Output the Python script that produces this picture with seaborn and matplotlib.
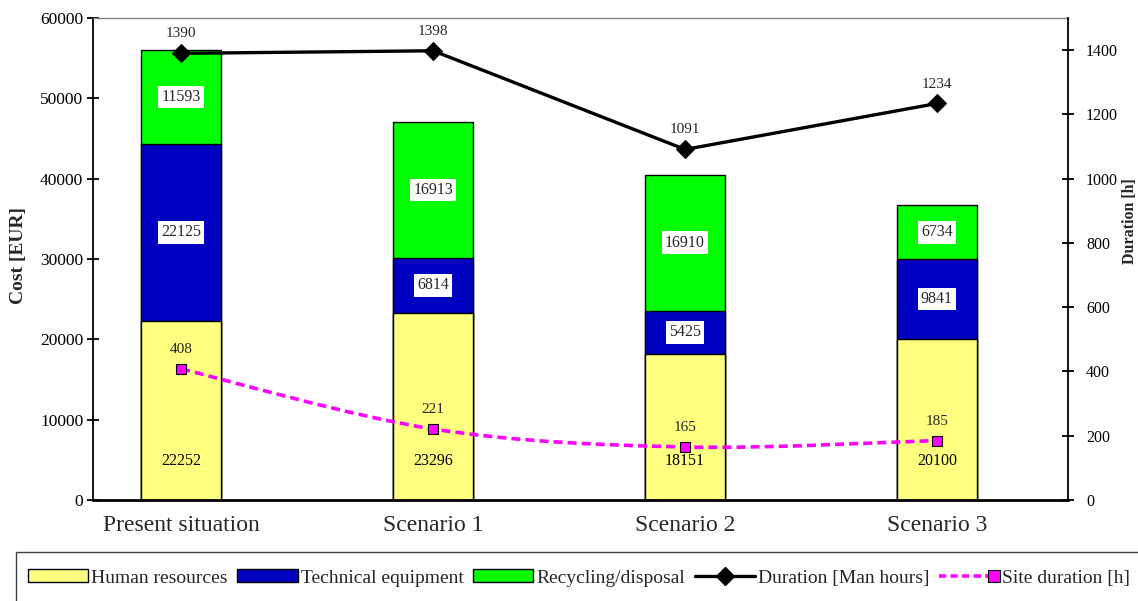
import numpy as np
import matplotlib
matplotlib.use("Agg")
import matplotlib.pyplot as plt
from matplotlib.path import Path
from matplotlib.patches import PathPatch, Patch, Rectangle
from matplotlib.lines import Line2D
from matplotlib.legend_handler import HandlerLine2D
import seaborn as sns

# ---- data ----
categories = ["Present situation", "Scenario 1", "Scenario 2", "Scenario 3"]
human_resources = [22252, 23296, 18151, 20100]
technical_equipment = [22125, 6814, 5425, 9841]
recycling_disposal = [11593, 16913, 16910, 6734]
duration_man_hours = [1390, 1398, 1091, 1234]
site_duration = [408, 221, 165, 185]

cost_ticks = [0, 10000, 20000, 30000, 40000, 50000, 60000]
hour_ticks = [0, 200, 400, 600, 800, 1000, 1200, 1400]

# ---- style ----
YELLOW = "#FFFF80"
BLUE = "#0000C0"
GREEN = "#00FF00"
MAGENTA = "#FF00FF"

sns.set_theme(style="white")
plt.rcParams["font.family"] = ["Liberation Serif", "DejaVu Serif"]

fig = plt.figure(figsize=(11.38, 6.01), dpi=100)
ax = fig.add_axes([93 / 1138, 1 - 500 / 601, (1068 - 93) / 1138, (500 - 18) / 601])

hr = np.array(human_resources)
te = np.array(technical_equipment)
rd = np.array(recycling_disposal)
stack_top = hr + te + rd
stack_mid = hr + te

bar_w = 0.32
# stacked columns: draw cumulative totals from the top segment down
for heights, col in [(stack_top, GREEN), (stack_mid, BLUE), (hr, YELLOW)]:
    sns.barplot(x=categories, y=heights, color=col, width=bar_w,
                edgecolor="black", linewidth=1.0, saturation=1, ax=ax)

pos = np.arange(len(categories))
ax.set_xlim(-0.35, 3.52)
ax.set_ylim(0, 60000)
ax.set_yticks(cost_ticks)
ax.set_yticklabels([str(t) for t in cost_ticks], fontsize=12.5)
ax.set_xticks(pos)
ax.set_xticklabels(categories, fontsize=17)
ax.tick_params(axis="x", length=0, pad=11)
ax.tick_params(axis="y", direction="inout", length=8, width=1.3, pad=3,
               left=True, colors="black")
ax.set_ylabel("Cost [EUR]", fontsize=14, fontweight="bold")
ax.yaxis.set_label_coords(-0.0677, 0.508)

# segment value labels
box = dict(boxstyle="square,pad=0.2", facecolor="white", edgecolor="none")
for i in range(len(categories)):
    ax.annotate(f"{hr[i]}", (pos[i], 0), xytext=(0, 28), textcoords="offset points",
                ha="center", va="center", fontsize=11.5, color="black")
    ax.text(pos[i], hr[i] + te[i] / 2, f"{te[i]}", ha="center", va="center",
            fontsize=11.5, bbox=box, zorder=5)
    ax.text(pos[i], stack_mid[i] + rd[i] / 2, f"{rd[i]}", ha="center", va="center",
            fontsize=11.5, bbox=box, zorder=5)

for side in ["left", "bottom"]:
    ax.spines[side].set_color("black")
ax.spines["left"].set_linewidth(1.3)
ax.spines["bottom"].set_linewidth(2.0)
ax.spines["top"].set_color("#808080")
ax.spines["top"].set_linewidth(1.0)
ax.spines["right"].set_visible(False)

# ---- secondary axis: durations ----
ax2 = ax.twinx()
ax2.set_ylim(0, 1500)
sns.lineplot(x=pos, y=duration_man_hours, color="black", linewidth=2.4,
             marker="D", markersize=9, markeredgecolor="black", ax=ax2, zorder=4)

# smoothed dashed curve for the site duration (Catmull-Rom as cubic Bezier)
pts = np.column_stack([pos, site_duration]).astype(float)
verts = [tuple(pts[0])]
codes = [Path.MOVETO]
n = len(pts)
for k in range(n - 1):
    p0 = pts[max(k - 1, 0)]
    p1 = pts[k]
    p2 = pts[k + 1]
    p3 = pts[min(k + 2, n - 1)]
    c1 = p1 + (p2 - p0) / 6.0
    c2 = p2 - (p3 - p1) / 6.0
    verts += [tuple(c1), tuple(c2), tuple(p2)]
    codes += [Path.CURVE4] * 3
ax2.add_patch(PathPatch(Path(verts, codes), fill=False, edgecolor=MAGENTA,
                        linewidth=2.6, linestyle=(0, (2.5, 1.4)), zorder=3))
sns.scatterplot(x=pos, y=site_duration, marker="s", s=55, color=MAGENTA,
                edgecolor="black", linewidth=0.8, ax=ax2, zorder=5)

for i in range(len(categories)):
    ax2.annotate(f"{duration_man_hours[i]}", (pos[i], duration_man_hours[i]),
                 xytext=(0, 14), textcoords="offset points", ha="center",
                 va="center", fontsize=11)
    ax2.annotate(f"{site_duration[i]}", (pos[i], site_duration[i]),
                 xytext=(0, 14), textcoords="offset points", ha="center",
                 va="center", fontsize=11)

ax2.set_yticks(hour_ticks)
ax2.set_yticklabels([str(t) for t in hour_ticks], fontsize=11.5)
ax2.tick_params(axis="y", direction="inout", length=8, width=1.3, pad=9,
                right=True, colors="black")
ax2.set_ylabel("Duration [h]", fontsize=11.5, fontweight="bold", rotation=90)
ax2.yaxis.set_label_coords(1.0554, 0.579)
for side in ["left", "top", "bottom"]:
    ax2.spines[side].set_visible(False)
ax2.spines["right"].set_color("black")
ax2.spines["right"].set_linewidth(1.3)
ax2.grid(False)
ax.grid(False)


class EndMarkerHandler(HandlerLine2D):
    """Legend sample: dashed line with one marker sitting at its right end."""

    def create_artists(self, legend, orig_handle, xdescent, ydescent,
                       width, height, fontsize, trans):
        y = height / 2 - ydescent
        x0, x1 = -xdescent, -xdescent + width
        xm = x1 - 0.5 * orig_handle.get_markersize()
        line = Line2D([x0, xm], [y, y])
        self.update_prop(line, orig_handle, legend)
        line.set_marker("None")
        mark = Line2D([xm], [y])
        self.update_prop(mark, orig_handle, legend)
        mark.set_linestyle("None")
        line.set_transform(trans)
        mark.set_transform(trans)
        return [line, mark]


# ---- legend strip ----
fig.add_artist(Rectangle((16 / 1138, -0.05), 1.1, (601 - 552) / 601 + 0.05,
                         transform=fig.transFigure, fill=False,
                         edgecolor="#404040", linewidth=1.0))
site_handle = Line2D([], [], color=MAGENTA, linewidth=2.6, linestyle=(0, (2, 1.2)),
                     marker="s", markersize=8, markerfacecolor=MAGENTA,
                     markeredgecolor="black", markeredgewidth=0.8)
handles = [
    Patch(facecolor=YELLOW, edgecolor="black", linewidth=1.0),
    Patch(facecolor=BLUE, edgecolor="black", linewidth=1.0),
    Patch(facecolor=GREEN, edgecolor="black", linewidth=1.0),
    Line2D([], [], color="black", linewidth=2.4, marker="D", markersize=9),
    site_handle,
]
labels = ["Human resources", "Technical equipment", "Recycling/disposal",
          "Duration [Man hours]", "Site duration [h]"]
fig.legend(handles, labels, loc="center left",
           bbox_to_anchor=(28 / 1138, 1 - 578 / 601), ncol=5, frameon=False,
           borderaxespad=0, borderpad=0, handlelength=3.1, handleheight=0.6,
           handletextpad=0.15, columnspacing=0.5, fontsize=14,
           handler_map={site_handle: EndMarkerHandler()})

fig.savefig("out.png", dpi=100)
